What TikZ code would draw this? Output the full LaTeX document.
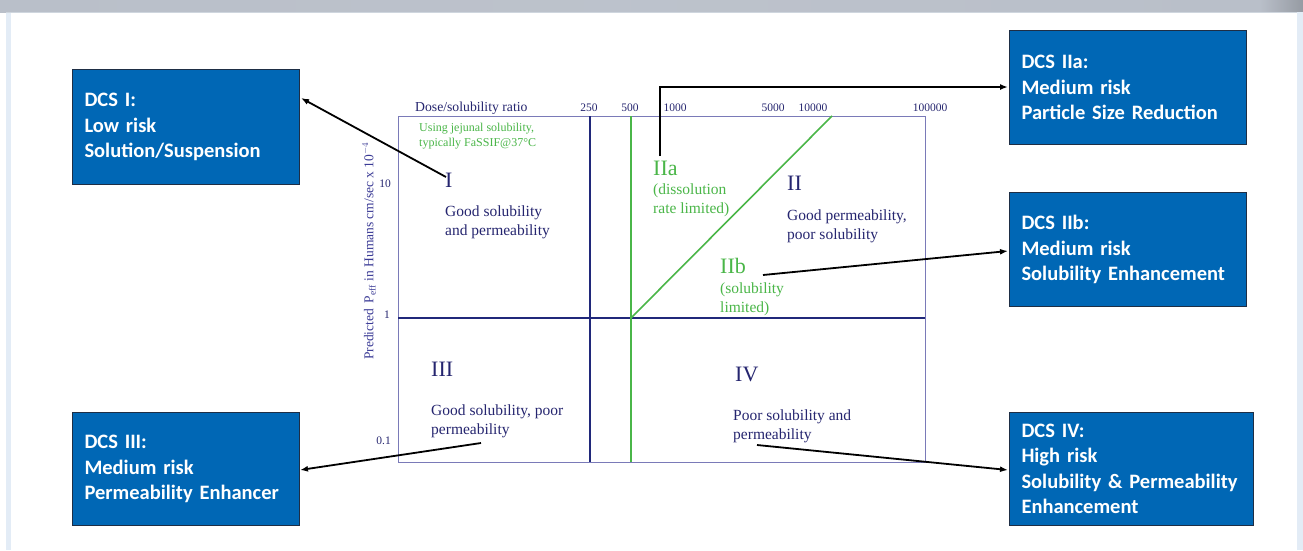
\documentclass[tikz,border=0pt]{standalone}
\usepackage{fontspec}
\setmainfont{Liberation Serif}
\newfontfamily\boxfont{Carlito}
\usetikzlibrary{arrows.meta}
\definecolor{dcsblue}{HTML}{0067B5}
\definecolor{dcsborder}{HTML}{1E2E45}
\definecolor{navy}{HTML}{25256F}
\definecolor{axisblue}{HTML}{3B3B96}
\definecolor{framec}{HTML}{7A7AB8}
\definecolor{lineblue}{HTML}{20287A}
\definecolor{greenc}{HTML}{4AB648}
\definecolor{barl}{HTML}{B9BFC9}
\definecolor{barr}{HTML}{969BA3}
\definecolor{sideblue}{HTML}{E3ECF6}
\tikzset{
  dcsbox/.style={draw=dcsborder, line width=1pt, fill=dcsblue, text=white, anchor=north west,
    rectangle, align=left, inner xsep=12pt, inner ysep=0pt,
    font=\boxfont\bfseries\fontsize{20.5}{25.5}\selectfont},
  romanlab/.style={text=navy, anchor=base west, inner sep=0pt, font=\fontsize{22}{24}\selectfont},
  greenlab/.style={text=greenc, anchor=base west, inner sep=0pt, font=\fontsize{22}{24}\selectfont},
  desc/.style={text=navy, anchor=base west, inner sep=0pt, align=left, font=\fontsize{15.5}{19}\selectfont},
  greendesc/.style={text=greenc, anchor=base west, inner sep=0pt, align=left, font=\fontsize{15.5}{18.5}\selectfont},
  tick/.style={text=navy, anchor=base, inner sep=0pt, font=\fontsize{11.5}{13}\selectfont},
  ytick/.style={text=navy, anchor=east, inner sep=0pt, font=\fontsize{11.5}{13}\selectfont},
  conn/.style={draw=black, line width=1.8pt, -{Latex[length=8pt,width=6pt]}},
}
\begin{document}
\begin{tikzpicture}[x=1pt,y=-1pt]
\useasboundingbox (0,0) rectangle (1303,550);
% background frame
\fill[white] (0,0) rectangle (1303,550);
\shade[left color=barl, right color=barl, middle color=barl!95!white] (0,0) rectangle (1260,12);
\shade[left color=barl, right color=barr] (1260,0) rectangle (1303,12);
\fill[sideblue] (6,12) rectangle (11,550);
\fill[sideblue] (1297,12) rectangle (1303,550);
\draw[sideblue!80!gray, line width=0.6pt] (6,12.5) -- (1297,12.5);

% chart frame
\draw[framec, line width=1pt] (398,116) rectangle (925,462);
\draw[lineblue, line width=1.6pt] (398,318) -- (925,318);
\draw[lineblue, line width=1.6pt] (590,116) -- (590,462);
\draw[greenc, line width=1.6pt] (631,116) -- (631,462);
\draw[greenc, line width=1.6pt] (631,318) -- (832,116);

% axis labels
\node[text=navy, anchor=base west, inner sep=0pt, font=\fontsize{13.7}{15}\selectfont] (xlab) at (415,111) {Dose/solubility ratio};
\node[tick] (t250) at (589,111) {250};
\node[tick] (t500) at (630,111) {500};
\node[tick] (t1000) at (675,111) {1000};
\node[tick] (t5000) at (773,111) {5000};
\node[tick] (t10000) at (813,111) {10000};
\node[tick] (t100000) at (930,111) {100000};
\node[ytick] (y10) at (391,184) {10};
\node[ytick] (y1) at (390,315) {1};
\node[ytick] (y01) at (391,441) {0.1};
\node[text=axisblue, rotate=90, inner sep=0pt, font=\fontsize{13.5}{15}\selectfont] (ylab) at (369,251)
  {Predicted\, P$_{\mathrm{eff}}$ in Humans cm/sec x 10$^{-4}$};
\node[greendesc, font=\fontsize{12}{15}\selectfont] (note) at (419,146) {Using jejunal solubility,\\typically FaSSIF@37°C};

% region labels
\node[romanlab] (rI) at (445,187) {I};
\node[desc] (dI) at (445,235) {Good solubility\\and permeability};
\node[greenlab] (rIIa) at (653,175) {IIa};
\node[greendesc] (dIIa) at (653,213) {(dissolution\\rate limited)};
\node[romanlab] (rII) at (787,190) {II};
\node[desc] (dII) at (787,239) {Good permeability,\\poor solubility};
\node[greenlab] (rIIb) at (720,273) {IIb};
\node[greendesc] (dIIb) at (720,312) {(solubility\\limited)};
\node[romanlab] (rIII) at (431,376) {III};
\node[desc] (dIII) at (431,434) {Good solubility, poor\\permeability};
\node[romanlab] (rIV) at (735,381) {IV};
\node[desc] (dIV) at (733,439) {Poor solubility and\\permeability};

% DCS boxes
\node[dcsbox, minimum width=227pt, minimum height=115pt, text width=203pt] (bI) at (72,69)
  {DCS I:\\Low risk\\Solution/Suspension};
\node[dcsbox, minimum width=237pt, minimum height=114pt, text width=213pt] (bIIa) at (1009,30)
  {DCS IIa:\\Medium risk\\Particle Size Reduction};
\node[dcsbox, minimum width=237pt, minimum height=114pt, text width=213pt] (bIIb) at (1009,192)
  {DCS IIb:\\Medium risk\\Solubility Enhancement};
\node[dcsbox, minimum width=227pt, minimum height=113pt, text width=203pt] (bIII) at (72,412)
  {DCS III:\\Medium risk\\Permeability Enhancer};
\node[dcsbox, minimum width=244pt, minimum height=113pt, text width=220pt] (bIV) at (1009,412)
  {DCS IV:\\High risk\\Solubility \& Permeability\\Enhancement};

% connectors
\coordinate (sI) at (446,177);
\coordinate (eI) at (301,98);
\coordinate (sIIa) at (660,156);
\coordinate (eIIa) at (1008,87);
\coordinate (sIIb) at (763,275);
\coordinate (eIIb) at (1008,251);
\coordinate (sIII) at (481,443);
\coordinate (eIII) at (300,470);
\coordinate (sIV) at (757,445);
\coordinate (eIV) at (1008,470);
\draw[conn] (sI) -- (eI);
\draw[conn] (sIIa) -- (sIIa |- eIIa) -- (eIIa);
\draw[conn] (sIIb) -- (eIIb);
\draw[conn] (sIII) -- (eIII);
\draw[conn] (sIV) -- (eIV);
\end{tikzpicture}
\end{document}
